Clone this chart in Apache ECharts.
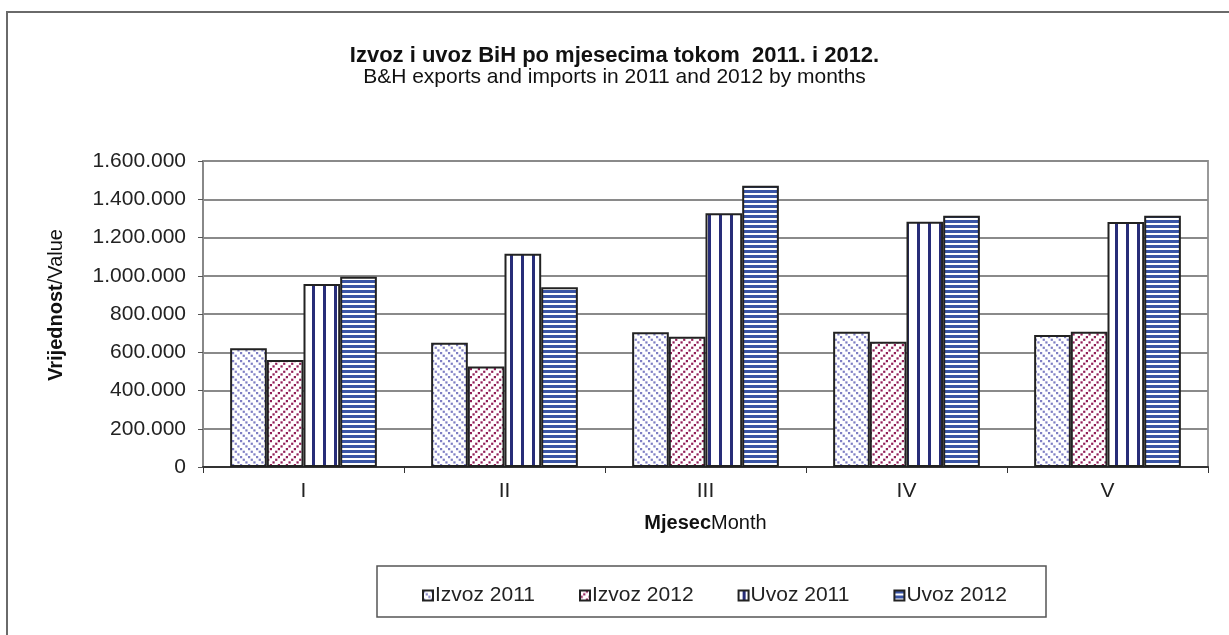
<!DOCTYPE html>
<html>
<head>
<meta charset="utf-8">
<title>Izvoz i uvoz BiH</title>
<script src="https://cdn.jsdelivr.net/npm/echarts@6/dist/echarts.min.js"></script>
<style>
  html, body { margin: 0; padding: 0; background: #fff; }
  #chart { width: 1229px; height: 635px; }
</style>
</head>
<body>
<div id="chart"></div>
<script>
// months (x axis)
const categories = ['I', 'II', 'III', 'IV', 'V'];
// values
const izvoz2011 = [621000, 650000, 704000, 707000, 690000];
const izvoz2012 = [559000, 525000, 681000, 655000, 707000];
const uvoz2011 = [957000, 1115000, 1327000, 1283000, 1281000];
const uvoz2012 = [995000, 940000, 1471000, 1314000, 1314000];
const seriesNames = ['Izvoz 2011', 'Izvoz 2012', 'Uvoz 2011', 'Uvoz 2012'];
// y axis range
const yMin = 0;
const yMax = 1600000;
const yStep = 200000;

const FONT = '"Liberation Sans", Arial, sans-serif';

// small canvas tiles used as hatch fills
function tile(w, h, draw) {
  const c = document.createElement('canvas');
  c.width = w;
  c.height = h;
  const ctx = c.getContext('2d');
  ctx.fillStyle = '#fff';
  ctx.fillRect(0, 0, w, h);
  draw(ctx);
  return { image: c, repeat: 'repeat' };
}

// dashed diagonal: 3 dashes per 8px tile
const hatchBack = tile(8, 8, ctx => {   // "\" light violet
  ctx.fillStyle = '#7f7fc4';
  for (let k = 0; k < 3; k++) {
    const d = k * 8 / 3;
    ctx.fillRect(d, d, 2.2, 2.2);
  }
});
const hatchFwd = tile(8, 8, ctx => {    // "/" maroon
  ctx.fillStyle = '#921f58';
  for (let k = 0; k < 3; k++) {
    const d = k * 8 / 3;
    ctx.fillRect(5.8 - d, d, 2.2, 2.2);
  }
});
const vLines = tile(11, 11, ctx => {    // vertical navy lines
  ctx.fillStyle = '#282d78';
  ctx.fillRect(4, 0, 3, 11);
});
const hLines = tile(4, 5, ctx => {      // horizontal blue stripes
  ctx.fillStyle = '#3a55a5';
  ctx.fillRect(0, 0, 4, 3);
});

function fmt(v) {
  return String(v).replace(/\B(?=(\d{3})+(?!\d))/g, '.');
}

function barSeries(name, data, fill) {
  return {
    name: name,
    type: 'bar',
    data: data,
    barGap: '0%',
    barCategoryGap: '27%',
    itemStyle: {
      color: fill,
      borderColor: '#222',
      borderWidth: 2
    },
    emphasis: { disabled: true }
  };
}

const chart = echarts.init(document.getElementById('chart'), null, { renderer: 'canvas' });
chart.setOption({
  animation: false,
  backgroundColor: '#fff',
  textStyle: { fontFamily: FONT },
  title: {
    text: 'Izvoz i uvoz BiH po mjesecima tokom  2011. i 2012.',
    subtext: 'B&H exports and imports in 2011 and 2012 by months',
    left: 'center',
    top: 46,
    padding: 0,
    itemGap: 0,
    textStyle: { fontFamily: FONT, fontSize: 22, fontWeight: 'bold', color: '#111', lineHeight: 20 },
    subtextStyle: { fontFamily: FONT, fontSize: 21, color: '#111', lineHeight: 19 }
  },
  grid: {
    left: 203,
    right: 21,
    top: 161,
    bottom: 168,
    show: true,
    borderColor: '#999',
    borderWidth: 2
  },
  legend: {
    data: seriesNames,
    left: 417,
    top: 580,
    itemGap: 44,
    itemWidth: 10,
    itemHeight: 10,
    icon: 'rect',
    textStyle: { fontFamily: FONT, fontSize: 21, color: '#222', padding: [0, 0, 0, -3] }
  },
  xAxis: {
    type: 'category',
    data: categories,
    name: '{b|Mjesec}{n|Month}',
    nameLocation: 'middle',
    nameGap: 46,
    nameTextStyle: {
      rich: {
        b: { fontFamily: FONT, fontSize: 20, fontWeight: 'bold', color: '#111' },
        n: { fontFamily: FONT, fontSize: 20, color: '#111' }
      }
    },
    axisLine: { lineStyle: { color: '#333', width: 2 } },
    axisTick: { show: true, alignWithLabel: false, length: 6, lineStyle: { color: '#333', width: 1 } },
    axisLabel: { margin: 14, fontFamily: FONT, fontSize: 21, color: '#222' }
  },
  yAxis: {
    type: 'value',
    min: yMin,
    max: yMax,
    interval: yStep,
    axisLine: { show: true, lineStyle: { color: '#888', width: 2 } },
    axisTick: { show: true, inside: false, length: 5, lineStyle: { color: '#555', width: 1 } },
    axisLabel: { margin: 17, fontFamily: FONT, fontSize: 21, color: '#222', formatter: fmt },
    splitLine: { show: true, lineStyle: { color: '#8a8a8a', width: 2 } }
  },
  graphic: [
    {
      type: 'rect',
      silent: true,
      shape: { x: 7, y: 12, width: 1300, height: 700 },
      style: { fill: 'none', stroke: '#6a6a6a', lineWidth: 2 }
    },
    {
      type: 'rect',
      silent: true,
      shape: { x: 377, y: 566, width: 669, height: 51 },
      style: { fill: 'none', stroke: '#555', lineWidth: 1.5 }
    },
    {
      type: 'text',
      silent: true,
      x: 56,
      y: 305,
      rotation: Math.PI / 2,
      style: {
        text: '{b|Vrijednost}{n|/Value}',
        align: 'center',
        verticalAlign: 'middle',
        rich: {
          b: { fontFamily: FONT, fontSize: 20, fontWeight: 'bold', fill: '#111' },
          n: { fontFamily: FONT, fontSize: 20, fill: '#111' }
        }
      }
    }
  ],
  series: [
    barSeries(seriesNames[0], izvoz2011, hatchBack),
    barSeries(seriesNames[1], izvoz2012, hatchFwd),
    barSeries(seriesNames[2], uvoz2011, vLines),
    barSeries(seriesNames[3], uvoz2012, hLines)
  ]
});
</script>
</body>
</html>
